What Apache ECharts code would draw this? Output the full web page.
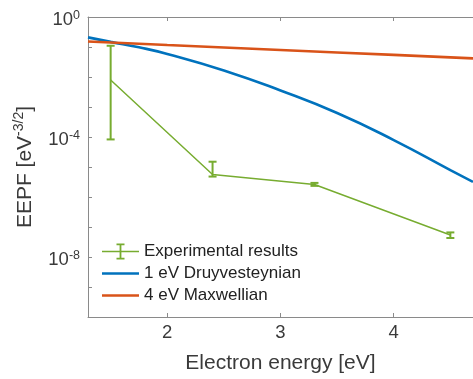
<!DOCTYPE html>
<html>
<head>
<meta charset="utf-8">
<script src="https://cdn.jsdelivr.net/npm/echarts@6/dist/echarts.min.js"></script>
<style>
  html, body { margin: 0; padding: 0; background: #fff; }
  #chart { width: 473px; height: 379px; }
</style>
</head>
<body>
<div id="chart"></div>
<script>
// model curves, sampled along energy (eV)
const modelEnergy = [1.3, 1.5, 1.75, 2, 2.5, 3, 3.5, 4, 4.5, 4.7]
const druyvesteyn = [0.209, 0.148, 0.0977, 0.0589, 0.0166, 0.00355, 6.3e-4, 7.9e-5, 7.9e-6, 3.2e-6]
const maxwellian = [0.152, 0.141, 0.128, 0.116, 0.0964, 0.0796, 0.0659, 0.0545, 0.0451, 0.0418]

// measured points with error bars
const expEnergy = [1.5, 2.4, 3.3, 4.5]
const expEEPF = [7.9e-3, 5.6e-6, 2.6e-6, 5.4e-8]
const expLow = [8.3e-5, 4.8e-6, 2.35e-6, 4.3e-8]
const expHigh = [0.11, 1.5e-5, 2.95e-6, 6.6e-8]

const xTicks = [2, 3, 4]
const yLabelExps = [0, -4, -8]

const GREEN = '#77AC30'
const BLUE = '#0072BD'
const RED = '#D95319'
const AXIS = '#8a8a8a'
const TEXT = '#3a3a3a'
const FONT = '"Liberation Sans", Arial, sans-serif'

const zip = (xs, ys) => xs.map((x, i) => [x, ys[i]])

// legend glyphs: plain line, and line with an error bar through it
const lineIcon = 'path://M0,0 L37,0 L37,2.6 L0,2.6 Z'
const errIcon = 'path://M0,7.2 L37,7.2 L37,8.8 L0,8.8 Z M17.6,0 L19.4,0 L19.4,16 L17.6,16 Z ' +
  'M14.5,0 L22.5,0 L22.5,1.8 L14.5,1.8 Z M14.5,14.2 L22.5,14.2 L22.5,16 L14.5,16 Z'

const chart = echarts.init(document.getElementById('chart'), null, { renderer: 'canvas' })

chart.setOption({
  animation: false,
  backgroundColor: '#fff',
  textStyle: { fontFamily: FONT },
  grid: { left: 88, right: -5, top: 17, bottom: 62, containLabel: false },
  legend: {
    orient: 'vertical',
    left: 97,
    top: 238,
    itemWidth: 37,
    itemHeight: 16,
    itemGap: 5,
    symbolKeepAspect: true,
    textStyle: { fontSize: 17, color: '#222', fontFamily: FONT },
    data: [
      { name: 'Experimental results', icon: errIcon },
      { name: '1 eV Druyvesteynian', icon: lineIcon },
      { name: '4 eV Maxwellian', icon: lineIcon }
    ]
  },
  xAxis: [
    {
      type: 'value',
      min: 1.3,
      max: 4.7,
      position: 'bottom',
      name: 'Electron energy [eV]',
      nameLocation: 'middle',
      nameGap: 36,
      nameTextStyle: { fontSize: 21, color: TEXT, fontFamily: FONT },
      axisLine: { show: true, lineStyle: { color: AXIS, width: 1 } },
      axisTick: { show: true, inside: true, length: 4, customValues: xTicks, lineStyle: { color: AXIS } },
      axisLabel: { customValues: xTicks, fontSize: 18.5, color: TEXT, margin: 6, fontFamily: FONT },
      splitLine: { show: false }
    },
    {
      type: 'value',
      min: 1.3,
      max: 4.7,
      position: 'top',
      axisLine: { show: true, lineStyle: { color: AXIS, width: 1 } },
      axisTick: { show: true, inside: true, length: 4, customValues: xTicks, lineStyle: { color: AXIS } },
      axisLabel: { show: false },
      splitLine: { show: false }
    }
  ],
  yAxis: {
    type: 'log',
    logBase: 10,
    min: 1e-10,
    max: 1,
    interval: 1,
    name: '{b|EEPF [eV}{s|-3/2}{b|]}',
    nameLocation: 'middle',
    nameRotate: 90,
    nameGap: 50,
    nameTextStyle: {
      rich: {
        b: { fontSize: 21, color: TEXT, fontFamily: FONT, lineHeight: 26 },
        s: { fontSize: 14, color: TEXT, fontFamily: FONT, verticalAlign: 'top', lineHeight: 14 }
      }
    },
    axisLine: { show: true, lineStyle: { color: AXIS, width: 1 } },
    axisTick: { show: true, inside: true, length: 4, interval: 0, lineStyle: { color: AXIS } },
    axisLabel: {
      margin: 8,
      interval: 0,
      padding: [6, 0, 0, 0],
      formatter: (v) => {
        const e = Math.round(Math.log10(v))
        return yLabelExps.includes(e) ? '{b|10}{s|' + e + '}' : ''
      },
      rich: {
        b: { fontSize: 18.5, color: TEXT, fontFamily: FONT, lineHeight: 22 },
        s: { fontSize: 12.5, color: TEXT, fontFamily: FONT, verticalAlign: 'top', lineHeight: 12 }
      }
    },
    splitLine: { show: false }
  },
  series: [
    {
      name: '1 eV Druyvesteynian',
      type: 'line',
      data: zip(modelEnergy, druyvesteyn),
      smooth: true,
      symbol: 'none',
      lineStyle: { color: BLUE, width: 2.6 },
      itemStyle: { color: BLUE },
      z: 2
    },
    {
      name: '4 eV Maxwellian',
      type: 'line',
      data: zip(modelEnergy, maxwellian),
      symbol: 'none',
      lineStyle: { color: RED, width: 2.6 },
      itemStyle: { color: RED },
      z: 3
    },
    {
      name: 'Experimental results',
      type: 'line',
      data: zip(expEnergy, expEEPF),
      symbol: 'none',
      lineStyle: { color: GREEN, width: 1.5 },
      itemStyle: { color: GREEN },
      z: 4
    },
    {
      name: 'Experimental results',
      type: 'custom',
      data: expEnergy.map((x, i) => [x, expLow[i], expHigh[i]]),
      renderItem: (params, api) => {
        const lo = api.coord([api.value(0), api.value(1)])
        const hi = api.coord([api.value(0), api.value(2)])
        const w = 4
        const style = { stroke: GREEN, lineWidth: 2 }
        return {
          type: 'group',
          children: [
            { type: 'line', shape: { x1: lo[0], y1: lo[1], x2: hi[0], y2: hi[1] }, style },
            { type: 'line', shape: { x1: lo[0] - w, y1: lo[1], x2: lo[0] + w, y2: lo[1] }, style },
            { type: 'line', shape: { x1: hi[0] - w, y1: hi[1], x2: hi[0] + w, y2: hi[1] }, style }
          ]
        }
      },
      itemStyle: { color: GREEN },
      z: 5
    }
  ]
})
</script>
</body>
</html>
